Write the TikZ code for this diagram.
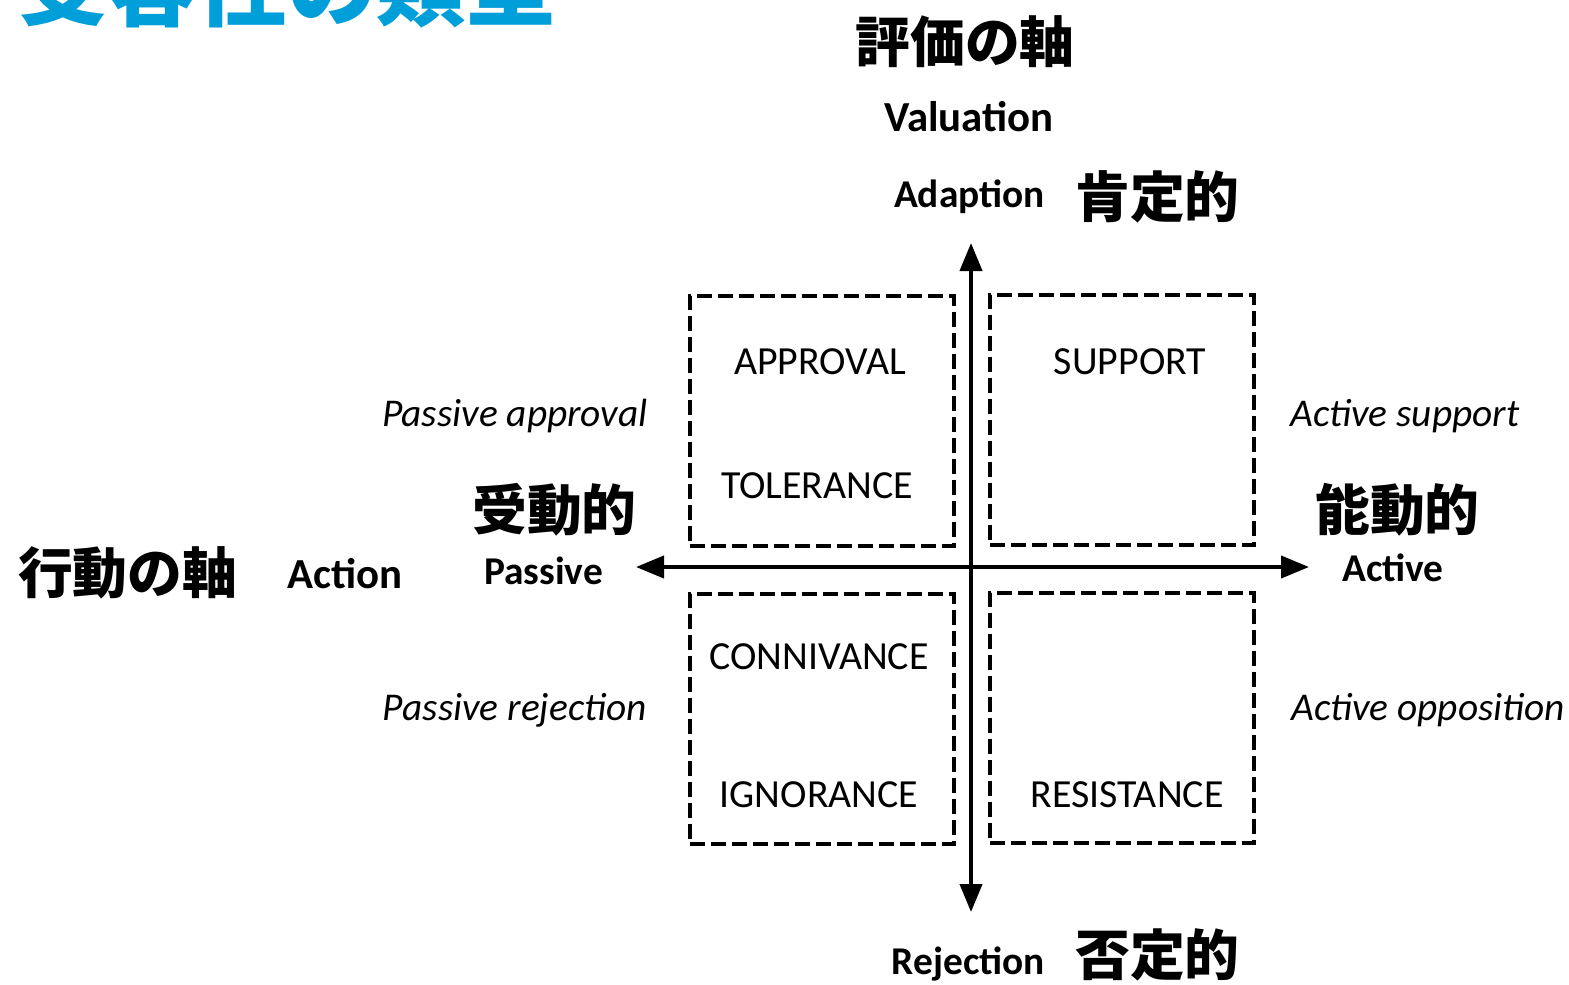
\documentclass[tikz,border=0pt]{standalone}
\usepackage{fontspec}
\setmainfont{Carlito}
\newfontfamily\jp{Noto Sans CJK JP}
\usetikzlibrary{arrows.meta}
\definecolor{titleblue}{HTML}{009FDA}
\begin{document}
\begin{tikzpicture}[x=1bp,y=-1bp,
  quad/.style={draw,line width=4bp,dash pattern=on 15bp off 6bp,minimum width=264bp,minimum height=250bp,inner sep=0pt},
  axis/.style={line width=4bp,{Triangle[length=28bp,width=22bp]}-{Triangle[length=28bp,width=22bp]}},
  jplabel/.style={font=\jp\bfseries\fontsize{55}{60}\selectfont,inner sep=0pt},
  entext/.style={font=\bfseries\fontsize{43}{46}\selectfont,inner sep=0pt},
  poletext/.style={font=\bfseries\fontsize{39.5}{44}\selectfont,inner sep=0pt},
  boxtext/.style={font=\fontsize{40}{44}\selectfont,inner sep=0pt},
  ittext/.style={font=\itshape\fontsize{39.5}{44}\selectfont,inner sep=0pt}]
\useasboundingbox (0,0) rectangle (1569,984);
% title
\node[anchor=base west,inner sep=0pt,text=titleblue,font=\jp\bfseries\fontsize{90}{92}\selectfont] (title) at (18,19) {受容性の類型};
% axes
\coordinate (top) at (971,243);
\coordinate (bottom) at (971,912);
\coordinate (left) at (636,567);
\coordinate (right) at (1309,567);
\draw[axis] (top) -- (bottom);
\draw[axis] (left) -- (right);
% quadrant boxes
\node[quad] (tl) at (822,421) {};
\node[quad] (tr) at (1122,419.5) {};
\node[quad] (bl) at (822,718.5) {};
\node[quad] (br) at (1122,717.5) {};
% box texts
\node[boxtext] (approval) at (820,362) {APPROVAL};
\node[boxtext] (tolerance) at (817,486) {TOLERANCE};
\node[boxtext] (support) at (1130,362) {SUPPORT};
\node[boxtext] (connivance) at (819,657) {CONNIVANCE};
\node[boxtext] (ignorance) at (819,795) {IGNORANCE};
\node[boxtext] (resistance) at (1127,795) {RESISTANCE};
% italic labels
\node[ittext,anchor=east] (pa) at (648,416) {Passive approval};
\node[ittext,anchor=west] (as) at (1290,416) {Active support};
\node[ittext,anchor=east] (pr) at (647,710) {Passive rejection};
\node[ittext,anchor=west] (ao) at (1291,710) {Active opposition};
% vertical axis labels
\node[jplabel] (hyoka) at (965,42) {評価の軸};
\node[entext] (valuation) at (969,117) {Valuation};
\node[poletext,anchor=east] (adaption) at (1045,197) {Adaption};
\node[jplabel,anchor=west] (kotei) at (1075,197) {肯定的};
\node[poletext,anchor=east] (rejection) at (1045,964) {Rejection};
\node[jplabel,anchor=west] (hitei) at (1075,955) {否定的};
% horizontal axis labels
\node[jplabel,anchor=west] (kodo) at (18,573) {行動の軸};
\node[entext,anchor=west] (action) at (287,574) {Action};
\node[poletext,anchor=west] (passive) at (484,571) {Passive};
\node[jplabel,anchor=west] (judo) at (472,510) {受動的};
\node[jplabel,anchor=west] (nodo) at (1315,510) {能動的};
\node[poletext,anchor=west] (active) at (1342,568) {Active};
\end{tikzpicture}
\end{document}
